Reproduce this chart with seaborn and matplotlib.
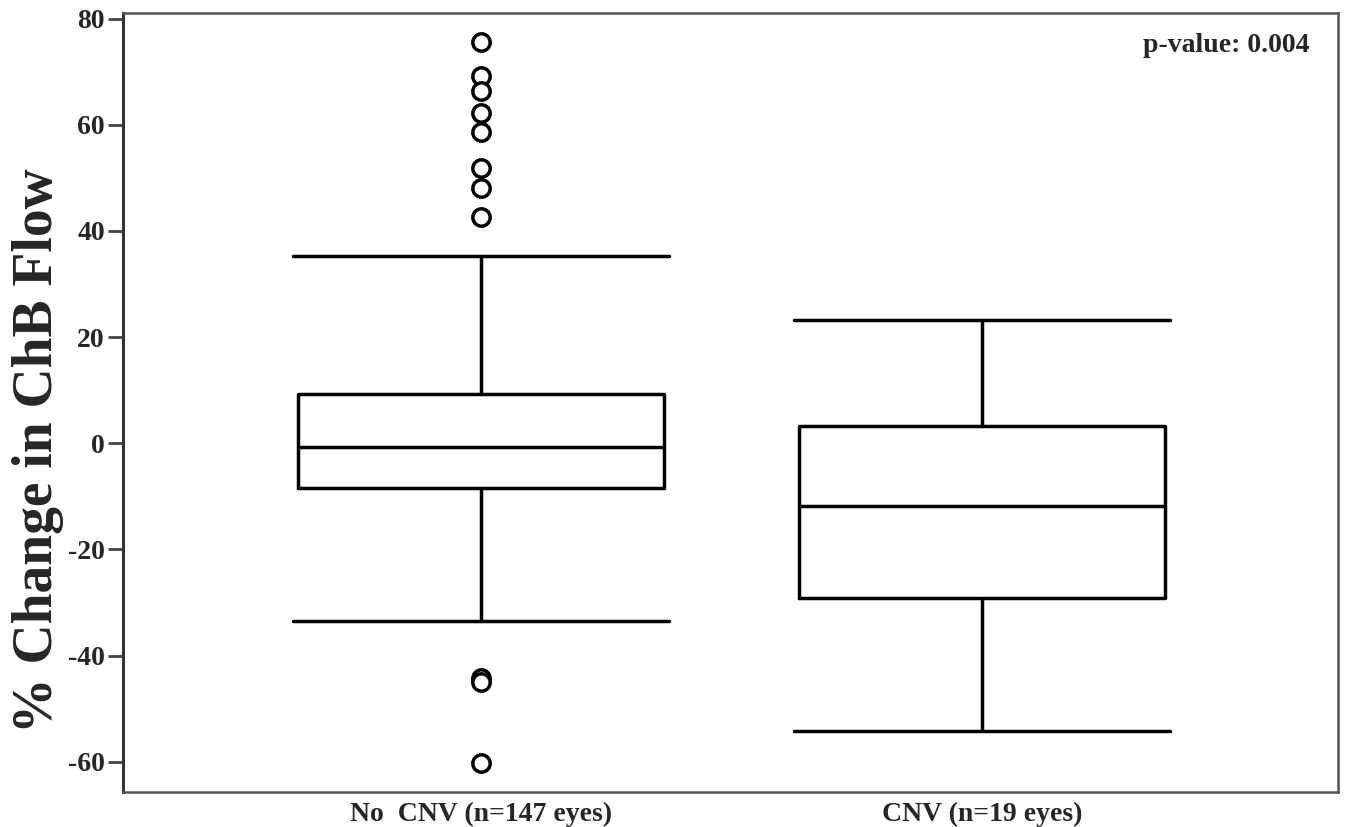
import matplotlib
matplotlib.use("Agg")
import matplotlib.pyplot as plt
import seaborn as sns

# ---- data ----
groups = ["No  CNV (n=147 eyes)", "CNV (n=19 eyes)"]
whisker_low = [-33.5, -54.3]
q1 = [-8.4, -29.2]
median = [-0.7, -11.9]
q3 = [9.2, 3.3]
whisker_high = [35.3, 23.3]
fliers_nocnv = [75.6, 69.2, 66.3, 62.2, 58.7, 51.8, 48.0, 42.6, -44.3, -44.9, -60.2]
fliers_cnv = []
yticks = [-60, -40, -20, 0, 20, 40, 60, 80]
p_text = "p-value: 0.004"
ylabel = "% Change in ChB Flow"

sns.set_theme(style="white")
plt.rcParams['font.family'] = ['Liberation Serif', 'DejaVu Serif']

fig = plt.figure(figsize=(13.46, 8.27), dpi=100)
ax = fig.add_axes([0.0914, 0.0423, 0.9026, 0.9417])

fliers = [fliers_nocnv, fliers_cnv]
stats = []
for i, g in enumerate(groups):
    stats.append(dict(label=g, whislo=whisker_low[i], q1=q1[i], med=median[i],
                      q3=q3[i], whishi=whisker_high[i], fliers=fliers[i]))

lw = 2.5
ax.bxp(stats, positions=[0, 1], widths=0.73, showfliers=True,
       boxprops=dict(color="black", linewidth=lw),
       medianprops=dict(color="black", linewidth=lw),
       whiskerprops=dict(color="black", linewidth=lw),
       capprops=dict(color="black", linewidth=lw),
       capwidths=0.75,
       flierprops=dict(marker="o", markersize=12.5, markerfacecolor="white",
                       markeredgecolor="black", markeredgewidth=2.5))

ax.set_xlim(-0.715, 1.71)
ax.set_ylim(-65.7, 81)
ax.set_yticks(yticks)
ax.set_yticklabels([str(t) for t in yticks], fontsize=20, fontweight="bold")
ax.set_xticks([0, 1])
ax.set_xticklabels(groups, fontsize=20, fontweight="bold")
ax.tick_params(axis="y", which="both", left=True, length=11, width=2, color="#444444", pad=2)
ax.tick_params(axis="x", bottom=False, pad=1)

for s in ax.spines.values():
    s.set_color("#555555")
    s.set_linewidth(1.8)
ax.spines["left"].set_color("#333333")
ax.spines["left"].set_linewidth(2.2)

fig.text(0.028, 0.4547, ylabel, rotation=90, ha="center", va="center",
         fontsize=40, fontweight="bold")

ax.text(0.977, 0.974, p_text, transform=ax.transAxes, ha="right", va="top",
        fontsize=20, fontweight="bold")

fig.savefig("out.png", dpi=100, facecolor="white")
